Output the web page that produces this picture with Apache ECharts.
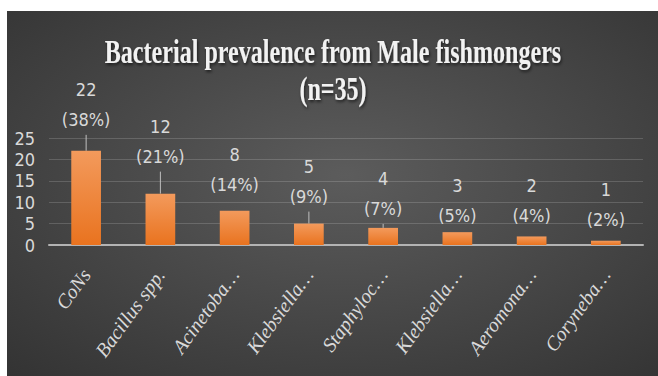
<!DOCTYPE html>
<html>
<head>
<meta charset="utf-8">
<script src="https://cdn.jsdelivr.net/npm/echarts@6/dist/echarts.min.js"></script>
<style>
  html, body { margin: 0; padding: 0; background: #ffffff; }
  #chart { width: 658px; height: 376px; }
</style>
</head>
<body>
<div id="chart"></div>
<script>
// values
const categories = ["CoNs", "Bacillus spp.", "Acinetoba\u2026", "Klebsiella\u2026", "Staphyloc\u2026", "Klebsiella\u2026", "Aeromona\u2026", "Coryneba\u2026"];
const counts = [22, 12, 8, 5, 4, 3, 2, 1];
const percents = [38, 21, 14, 9, 7, 5, 4, 2];
const yTicks = [0, 5, 10, 15, 20, 25];

const titleLines = ["Bacterial prevalence from Male fishmongers", "(n=35)"];

// how far each label sits above its bar (px), and which ones keep a leader line
const labelGap = [16, 22, 11, 12, 4, 2, 6, 6];
const leader = [true, true, false, true, true, false, false, false];

const narrow = "'Liberation Sans Narrow', 'DejaVu Sans Condensed', Roboto, sans-serif";
const textGrey = "#d9d9d9";

const chart = echarts.init(document.getElementById("chart"), null, { renderer: "svg" });

const option = {
  animation: false,
  graphic: [
    {
      type: "rect",
      z: -100,
      silent: true,
      shape: { x: 7, y: 11, width: 651, height: 365 },
      style: {
        fill: new echarts.graphic.RadialGradient(0.52, 0.45, 1.0, [
          { offset: 0, color: "#5c5c5c" },
          { offset: 1, color: "#262626" }
        ])
      }
    },
    ...titleLines.map((t, i) => ({
      type: "text",
      z: 100,
      x: 333,
      y: 52 + i * 37,
      scaleX: 0.73,
      style: {
        text: t,
        fill: "#f2f2f2",
        font: "bold 33px 'Liberation Serif', 'Times New Roman', serif",
        align: "center",
        verticalAlign: "middle",
        textShadowColor: "rgba(0,0,0,0.6)",
        textShadowBlur: 3,
        textShadowOffsetX: 1,
        textShadowOffsetY: 2
      }
    }))
  ],
  grid: { left: 49, right: 15, top: 138, bottom: 131 },
  xAxis: {
    type: "category",
    data: categories,
    axisTick: { show: false },
    axisLine: { lineStyle: { color: "#b3b3b3", width: 2 } },
    axisLabel: {
      interval: 0,
      rotate: 54,
      margin: 26,
      verticalAlign: "middle",
      color: textGrey,
      fontFamily: "'Liberation Serif', 'Times New Roman', serif",
      fontStyle: "italic",
      fontSize: 20
    }
  },
  yAxis: {
    type: "value",
    min: yTicks[0],
    max: yTicks[yTicks.length - 1],
    interval: yTicks[1] - yTicks[0],
    axisLine: { show: false },
    axisTick: { show: false },
    splitLine: { lineStyle: { color: "rgba(255,255,255,0.16)", width: 1 } },
    axisLabel: {
      margin: 14,
      color: textGrey,
      fontFamily: narrow,
      fontSize: 18,
      lineHeight: 18
    }
  },
  series: [
    {
      type: "bar",
      barWidth: "40%",
      data: counts.map((v, i) => ({
        value: v,
        labelLine: { show: leader[i] }
      })),
      itemStyle: {
        color: new echarts.graphic.LinearGradient(0, 0, 0, 1, [
          { offset: 0, color: "#f39a5c" },
          { offset: 1, color: "#e9731f" }
        ])
      },
      label: {
        show: true,
        position: "top",
        distance: 0,
        color: textGrey,
        fontFamily: narrow,
        fontSize: 18,
        lineHeight: 30,
        formatter: (p) => counts[p.dataIndex] + "\n(" + percents[p.dataIndex] + "%)"
      },
      labelLayout: (p) => ({ dy: -labelGap[p.dataIndex] }),
      labelLine: {
        show: true,
        lineStyle: { color: "#bfbfbf", width: 1 }
      }
    }
  ]
};

chart.setOption(option);
window.addEventListener("resize", () => chart.resize());
</script>
</body>
</html>
